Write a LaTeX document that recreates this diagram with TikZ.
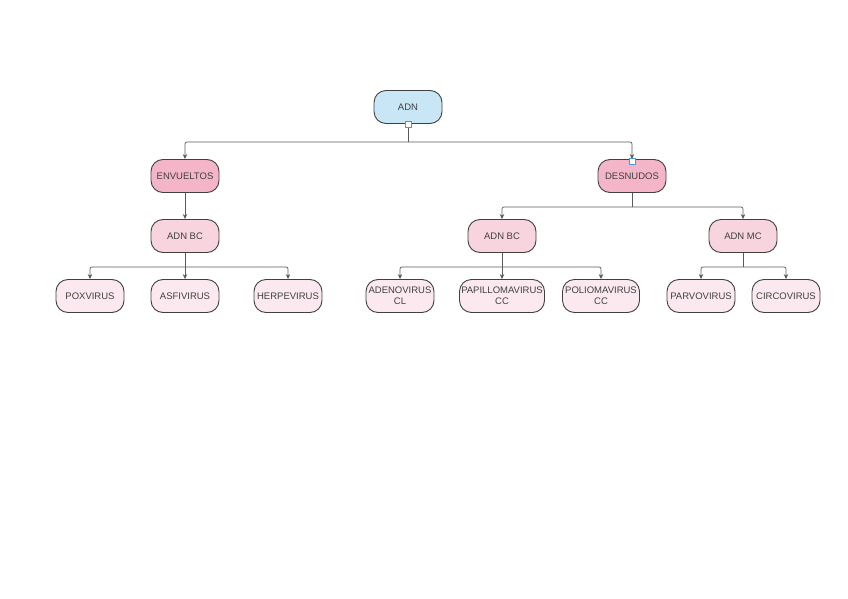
\documentclass[tikz,border=0pt]{standalone}
\usepackage{fontspec}
\setmainfont{Liberation Sans}
\usetikzlibrary{arrows.meta}
\definecolor{lblue}{HTML}{C9E6F7}
\definecolor{pinkA}{HTML}{F4B5C8}
\definecolor{pinkB}{HTML}{F8D4DF}
\definecolor{pinkC}{HTML}{FCE9EF}
\definecolor{edgec}{HTML}{5A5A5A}
\definecolor{handle}{HTML}{3AA0E0}
\tikzset{
  box/.style={draw=black!75, line width=0.9pt, rounded corners=12pt, minimum height=33pt,
    minimum width=68pt, inner sep=1pt, align=center, font=\fontsize{9.5}{11}\selectfont, text=black!75},
  rootbox/.style={box, fill=lblue},
  lvl1/.style={box, fill=pinkA},
  lvl2/.style={box, fill=pinkB},
  leaf/.style={box, fill=pinkC},
  conn/.style={draw=edgec, line width=0.7pt, rounded corners=2pt, -{Stealth[length=5pt,width=4.5pt]}},
  plain/.style={draw=edgec, line width=0.7pt},
  hnd/.style={draw=handle, fill=white, line width=0.8pt, minimum size=6pt, inner sep=0pt}
}
\begin{document}
\begin{tikzpicture}[x=1pt,y=-1pt]
\useasboundingbox (0,0) rectangle (848,599);
\node[rootbox] (adn) at (408,107) {ADN};
\node[lvl1] (env) at (185,176) {ENVUELTOS};
\node[lvl1] (des) at (632,176) {DESNUDOS};
\node[lvl2] (bcl) at (185,236) {ADN BC};
\node[lvl2] (bcm) at (502,236) {ADN BC};
\node[lvl2] (mc) at (743,236) {ADN MC};
\node[leaf] (pox) at (90,296) {POXVIRUS};
\node[leaf] (asf) at (185,296) {ASFIVIRUS};
\node[leaf] (her) at (288,296) {HERPEVIRUS};
\node[leaf] (ade) at (400,296) {ADENOVIRUS\\CL};
\node[leaf, minimum width=85pt] (pap) at (502,296) {PAPILLOMAVIRUS\\CC};
\node[leaf, minimum width=77pt] (pol) at (601,296) {POLIOMAVIRUS\\CC};
\node[leaf] (par) at (701,296) {PARVOVIRUS};
\node[leaf] (cir) at (786,296) {CIRCOVIRUS};
% connectors
\coordinate (j0) at (408,142);
\coordinate (j1) at (632,207);
\coordinate (j2) at (185,267);
\coordinate (j3) at (502,267);
\coordinate (j4) at (743,267);
\draw[plain] (adn.south) -- (j0);
\draw[conn] (j0) -| (env.north);
\draw[conn] (j0) -| (des.north);
\draw[conn] (env.south) -- (bcl.north);
\draw[plain] (des.south) -- (j1);
\draw[conn] (j1) -| (bcm.north);
\draw[conn] (j1) -| (mc.north);
\draw[plain] (bcl.south) -- (j2);
\draw[conn] (j2) -| (pox.north);
\draw[conn] (j2) -- (asf.north);
\draw[conn] (j2) -| (her.north);
\draw[plain] (bcm.south) -- (j3);
\draw[conn] (j3) -| (ade.north);
\draw[conn] (j3) -- (pap.north);
\draw[conn] (j3) -| (pol.north);
\draw[plain] (mc.south) -- (j4);
\draw[conn] (j4) -| (par.north);
\draw[conn] (j4) -| (cir.north);
% selection handles
\node[hnd] (h1) at (adn.south) {};
\node[hnd] (h2) at ([yshift=-2pt]des.north) {};
\end{tikzpicture}
\end{document}
